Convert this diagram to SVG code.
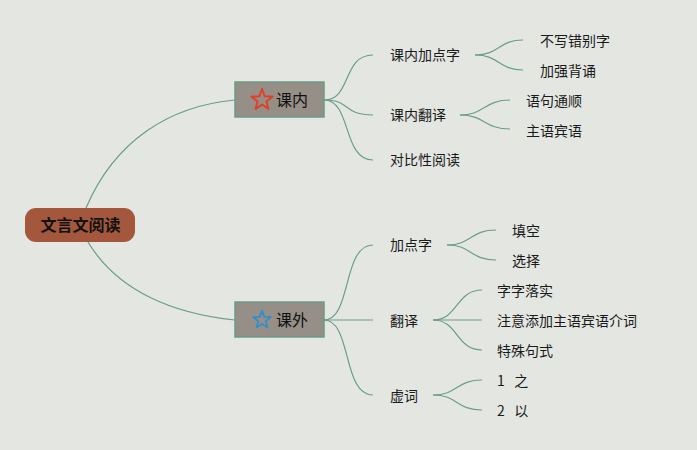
<svg xmlns="http://www.w3.org/2000/svg" width="697" height="450" viewBox="0 0 697 450">
<defs>
<style>
.bg{fill:#e4e6e2}
.c{fill:none;stroke:#6a9d8b;stroke-width:1.2}
.t{font-family:"Noto Sans CJK SC","Liberation Sans",sans-serif;font-size:14px;fill:#1a1a1a}
.m{fill:#958f87;stroke:#6b9a88;stroke-width:1.5}
.mt{font-family:"Noto Sans CJK SC","Liberation Sans",sans-serif;font-size:16px;fill:#111}
.rt{font-family:"Noto Sans CJK SC","Liberation Sans",sans-serif;font-size:16px;font-weight:bold;fill:#111}
</style>
<path id="star" d="M0,-11 L2.70,-3.72 L10.46,-3.40 L4.37,1.42 L6.47,8.90 L0,4.6 L-6.47,8.90 L-4.37,1.42 L-10.46,-3.40 L-2.70,-3.72 Z" fill="none" stroke-width="2" stroke-linejoin="round"/>
</defs>
<rect class="bg" x="0" y="0" width="697" height="450"/>
<g id="connectors">
<path class="c" d="M86,208 C115,140 170,106 235,100"/>
<path class="c" d="M88,242 C118,292 175,314 235,320"/>
<path class="c" d="M324,100 C352,100 342,55 373,55"/>
<path class="c" d="M324,100 C352,100 342,115 373,115"/>
<path class="c" d="M324,100 C352,100 342,160 373,160"/>
<path class="c" d="M475,55 C500,55 498,40 523,40"/>
<path class="c" d="M475,55 C500,55 498,70 523,70"/>
<path class="c" d="M460,115 C485,115 484,100 510,100"/>
<path class="c" d="M460,115 C485,115 484,129 510,129"/>
<path class="c" d="M324,320 C352,320 342,245 373,245"/>
<path class="c" d="M324,320 L373,320"/>
<path class="c" d="M324,320 C352,320 342,395 373,395"/>
<path class="c" d="M447,245 C472,245 470,230 496,230"/>
<path class="c" d="M447,245 C472,245 470,260 496,260"/>
<path class="c" d="M433,320 C458,320 456,290 482,290"/>
<path class="c" d="M433,320 L482,320"/>
<path class="c" d="M433,320 C458,320 456,350 482,350"/>
<path class="c" d="M433,395 C458,395 456,380 482,380"/>
<path class="c" d="M433,395 C458,395 456,410 482,410"/>
</g>
<g id="root">
<rect x="25" y="208" width="110" height="34" rx="11" fill="#a3573c"/>
<text class="rt" x="80.5" y="231" text-anchor="middle">文言文阅读</text>
</g>
<g id="kenei">
<rect class="m" x="235" y="82" width="89" height="35"/>
<use href="#star" x="262" y="100" stroke="#e0402a"/>
<text class="mt" x="292" y="106" text-anchor="middle">课内</text>
</g>
<g id="kewai">
<rect class="m" x="235" y="302" width="89" height="35"/>
<use href="#star" transform="translate(262,320) scale(0.85)" stroke="#2e8fd0"/>
<text class="mt" x="292" y="326" text-anchor="middle">课外</text>
</g>
<g id="n1"><text class="t" x="390" y="60">课内加点字</text></g>
<g id="n2"><text class="t" x="390" y="120">课内翻译</text></g>
<g id="n3"><text class="t" x="390" y="165">对比性阅读</text></g>
<g id="n11"><text class="t" x="540" y="46">不写错别字</text></g>
<g id="n12"><text class="t" x="540" y="76">加强背诵</text></g>
<g id="n21"><text class="t" x="526" y="106">语句通顺</text></g>
<g id="n22"><text class="t" x="526" y="136">主语宾语</text></g>
<g id="n4"><text class="t" x="390" y="250">加点字</text></g>
<g id="n5"><text class="t" x="390" y="326">翻译</text></g>
<g id="n6"><text class="t" x="390" y="401">虚词</text></g>
<g id="n41"><text class="t" x="512" y="236">填空</text></g>
<g id="n42"><text class="t" x="512" y="266">选择</text></g>
<g id="n51"><text class="t" x="497" y="296">字字落实</text></g>
<g id="n52"><text class="t" x="497" y="326">注意添加主语宾语介词</text></g>
<g id="n53"><text class="t" x="497" y="356">特殊句式</text></g>
<g id="n61"><text class="t" x="497" y="386" xml:space="preserve">1   之</text></g>
<g id="n62"><text class="t" x="497" y="416" xml:space="preserve">2   以</text></g>
</svg>
